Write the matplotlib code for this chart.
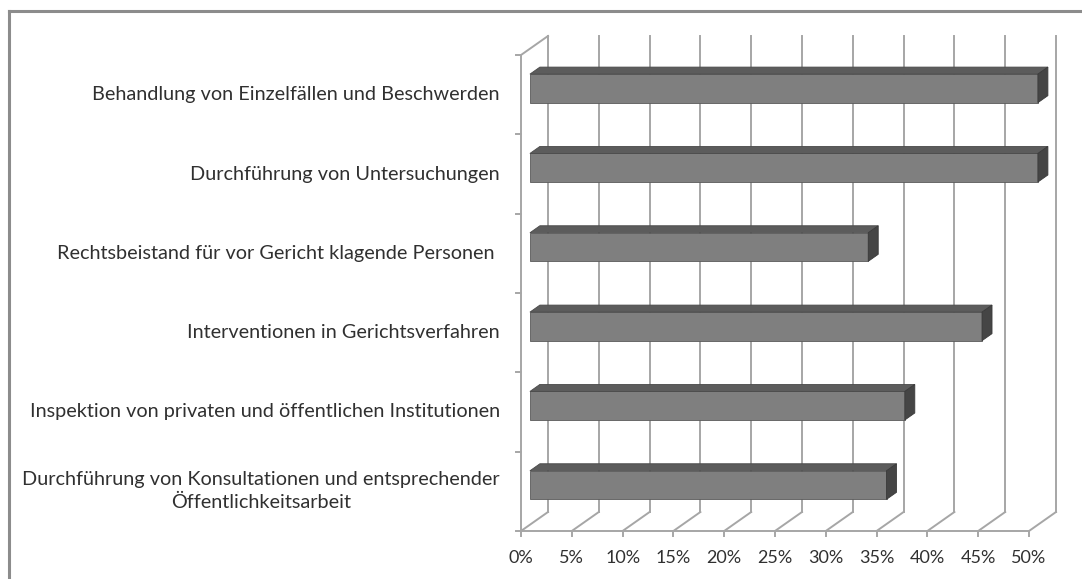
import matplotlib
matplotlib.use("Agg")
import matplotlib.pyplot as plt
from matplotlib.patches import Polygon
from matplotlib.lines import Line2D
import numpy as np

categories = [
    "Behandlung von Einzelfällen und Beschwerden",
    "Durchführung von Untersuchungen",
    "Rechtsbeistand für vor Gericht klagende Personen ",
    "Interventionen in Gerichtsverfahren",
    "Inspektion von privaten und öffentlichen Institutionen",
    "Durchführung von Konsultationen und entsprechender\nÖffentlichkeitsarbeit",
]
values = [50.0, 50.0, 33.3, 44.5, 36.9, 35.1]
xticks = [0, 5, 10, 15, 20, 25, 30, 35, 40, 45, 50]
xticklabels = ["0%", "5%", "10%", "15%", "20%", "25%", "30%", "35%", "40%", "45%", "50%"]

W, H, DPI = 1082, 579, 100
fig = plt.figure(figsize=(W / DPI, H / DPI), dpi=DPI)
fig.patch.set_facecolor("white")

# layout anchors (pixels) for the front plane
x0_px, x50_px = 521.0, 1029.0
ytop_px, yfloor_px = 55.0, 531.0
ncat = len(categories)
ppx = (x50_px - x0_px) / 50.0
ppy = (yfloor_px - ytop_px) / ncat

ax = fig.add_axes([0, 0, 1, 1])
ax.set_xlim(-x0_px / ppx, (W - x0_px) / ppx)
ax.set_ylim(-(H - yfloor_px) / ppy, yfloor_px / ppy)
ax.axis("off")

# depth offsets (data units)
dx = 27.0 / ppx
dy = 19.0 / ppy
grid_c = "#a6a6a6"
lw = 1.4
xmax = 50

# back wall gridlines
for t in xticks:
    ax.plot([t + dx, t + dx], [dy, ncat + dy], color=grid_c, lw=lw, zorder=1)
    ax.plot([t, t + dx], [0, dy], color=grid_c, lw=lw, zorder=1)
    ax.plot([t, t], [0, -5.0 / ppy], color=grid_c, lw=lw, zorder=1)
# floor front line
ax.plot([0, xmax], [0, 0], color=grid_c, lw=lw, zorder=1)
# left wall
ax.plot([0, 0], [0, ncat], color=grid_c, lw=lw, zorder=1)
ax.plot([0, dx], [ncat, ncat + dy], color=grid_c, lw=lw, zorder=1)
for k in range(ncat + 1):
    ax.plot([-5.0 / ppx, 0], [k, k], color=grid_c, lw=lw, zorder=1)

# bars
f = 0.33        # depth position of bar front face
bd = 0.37       # bar depth fraction
bh = 0.36       # bar height (category units)
front_c = "#7f7f7f"
top_c = "#5c5c5c"
side_c = "#454545"
centers = [ncat - i - 0.5 for i in range(ncat)]
bx = f * dx
by = f * dy
ddx = bd * dx
ddy = bd * dy
ax.barh([c + by for c in centers], values, height=bh, left=bx,
        color=front_c, edgecolor="#5a5a5a", linewidth=0.6, zorder=3)
for c, v in zip(centers, values):
    yb = c + by - bh / 2
    yt = c + by + bh / 2
    xl = bx
    xr = bx + v
    top = Polygon([(xl, yt), (xr, yt), (xr + ddx, yt + ddy), (xl + ddx, yt + ddy)],
                  closed=True, facecolor=top_c, edgecolor="#4a4a4a", lw=0.6, zorder=3)
    side = Polygon([(xr, yb), (xr + ddx, yb + ddy), (xr + ddx, yt + ddy), (xr, yt)],
                   closed=True, facecolor=side_c, edgecolor="#3a3a3a", lw=0.6, zorder=3)
    ax.add_patch(top)
    ax.add_patch(side)

font = ["Lato", "DejaVu Sans"]
txt_c = "#303030"
# category labels
for c, lab in zip(centers, categories):
    ax.annotate(lab, xy=(0, c), xytext=(-21 * 72 / DPI, 0), textcoords="offset points",
                ha="right", va="center", fontsize=14.3, family=font, color=txt_c,
                multialignment="center", linespacing=1.4)
# x tick labels
for t, lab in zip(xticks, xticklabels):
    ax.annotate(lab, xy=(t, 0), xytext=(0, -27 * 72 / DPI), textcoords="offset points",
                ha="center", va="center", fontsize=13, family=font, color=txt_c)

# outer frame (left and top edges visible)
fig.add_artist(Line2D([8.5 / W, 8.5 / W], [0, 1 - 11 / H], transform=fig.transFigure,
                      color="#8c8c8c", lw=2.2))
fig.add_artist(Line2D([8.5 / W, 1], [1 - 11 / H, 1 - 11 / H], transform=fig.transFigure,
                      color="#8c8c8c", lw=2.2))

fig.savefig("out.png", dpi=DPI)
